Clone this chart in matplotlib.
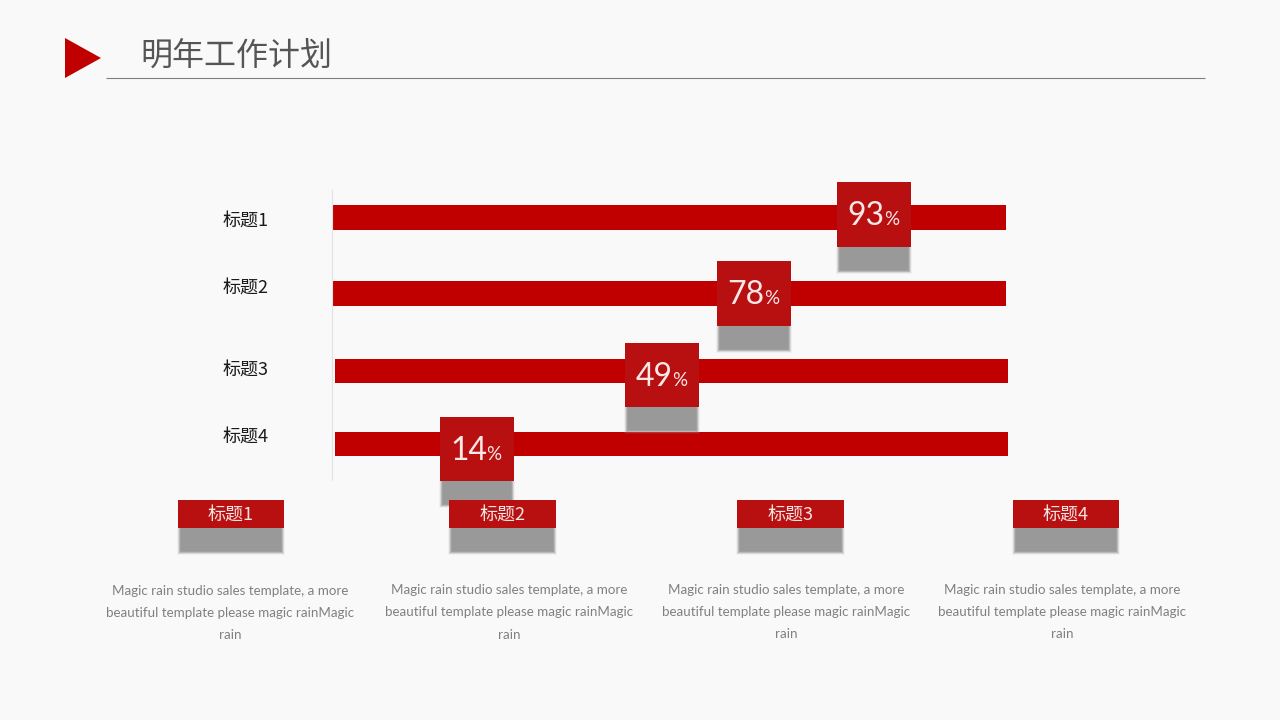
import matplotlib
matplotlib.use('Agg')
import matplotlib.pyplot as plt
from matplotlib.patches import Polygon, Rectangle

plt.rcParams['font.family'] = ['Noto Sans CJK SC', 'DejaVu Sans']

# data
row_labels = ['标题1', '标题2', '标题3', '标题4']
percents = [93, 78, 49, 14]
# where each marker sits along the bar (0-100 scale)
marker_pos = [80.45, 62.6, 48.95, 21.4]
bar_full = [100, 100, 100, 100]
card_labels = ['标题1', '标题2', '标题3', '标题4']
body_lines = ['Magic rain studio sales template, a more',
              'beautiful template please magic rainMagic',
              'rain']

# layout, in pixels of the 1280x720 picture
bar_left_px = [333, 333, 335, 335]
bar_y = [217.5, 293.5, 371, 444]
bar_h = [25, 25, 24, 24]
label_y = [219, 286, 368, 435]
marker_top = [182, 261, 343, 417]
marker_bottom = [247, 326, 407, 481]
card_left = [178, 449, 737, 1013]
card_right = [284, 556, 844, 1119]
body_x = [230.5, 509, 786.5, 1062]
body_y = [[591, 613, 635], [590, 612, 635], [590, 612, 634], [590, 612, 634]]

bg = '#f9f9f9'
red = '#c00000'
dark_red = '#b81010'
shadow = '#999999'
blur = [(2, 0.1), (1, 0.25), (0, 0.5), (-1, 0.75), (-2, 1)]

fig = plt.figure(figsize=(12.8, 7.2), dpi=100, facecolor=bg)

# chart: x is the 0-100 scale, y stays in picture pixels
ax = fig.add_axes([333 / 1280, 0, 673 / 1280, 1], zorder=1)
ax.set_xlim(0, 100)
ax.set_ylim(720, 0)
ax.patch.set_visible(False)
px = 100 / 673

for i in range(len(row_labels)):
    ax.barh(bar_y[i], bar_full[i], height=bar_h[i], left=(bar_left_px[i] - 333) * px,
            color=red, zorder=2, clip_on=False)

marker_w = 74 * px
for i in range(len(percents)):
    x0 = marker_pos[i] - marker_w / 2
    for grow, alpha in blur:
        ax.add_patch(Rectangle((x0 - (grow - 1) * px, marker_bottom[i]), marker_w + 2 * (grow - 1) * px, 25 + grow,
                               facecolor=shadow, edgecolor='none', alpha=alpha, zorder=3, clip_on=False))
    ax.add_patch(Rectangle((x0, marker_top[i]), marker_w, marker_bottom[i] - marker_top[i],
                           facecolor=dark_red, edgecolor='none', zorder=4, clip_on=False))
    base = marker_top[i] + 43
    ax.text(marker_pos[i] + 10 * px, base, str(percents[i]), color='#f9e8e8', fontsize=23,
            family=['Lato', 'DejaVu Sans'], ha='right', va='baseline', zorder=5)
    ax.text(marker_pos[i] + 9.5 * px, base, '%', color='#f9e8e8', fontsize=13.5,
            family=['Lato', 'DejaVu Sans'], ha='left', va='baseline', zorder=5)

for side in ['top', 'right', 'bottom']:
    ax.spines[side].set_visible(False)
ax.spines['left'].set_position(('data', -0.08))
ax.spines['left'].set_bounds(480, 190)
ax.spines['left'].set_color('#e2e2e2')
ax.spines['left'].set_linewidth(0.8)
ax.set_xticks([])
ax.set_yticks(label_y, row_labels)
ax.tick_params(axis='y', length=0, pad=46, labelsize=13, labelcolor='#1a1a1a')

# header, cards and captions on top, in plain pixels
top = fig.add_axes([0, 0, 1, 1], zorder=2)
top.set_xlim(0, 1280)
top.set_ylim(720, 0)
top.axis('off')
top.patch.set_visible(False)

top.add_patch(Polygon([(65, 38), (101, 58), (65, 78)], closed=True, facecolor=red, edgecolor='none'))
top.plot([106, 1205], [78, 78], color='#808080', lw=0.8, solid_capstyle='butt')
top.text(140.5, 56, '明年工作计划', fontsize=23, color='#555555', ha='left', va='center')

for i in range(len(card_labels)):
    for grow, alpha in blur:
        top.add_patch(Rectangle((card_left[i] + 1 - grow, 528), card_right[i] - card_left[i] - 2 + 2 * grow, 25 + grow,
                                facecolor=shadow, edgecolor='none', alpha=alpha, zorder=3))
    top.add_patch(Rectangle((card_left[i], 500), card_right[i] - card_left[i], 28,
                            facecolor=dark_red, edgecolor='none', zorder=4))
    top.text((card_left[i] + card_right[i]) / 2, 515, card_labels[i], color='#f6e4e4', fontsize=13,
             ha='center', va='center', zorder=5)
    for line, y in zip(body_lines, body_y[i]):
        top.text(body_x[i], y, line, color='#808080', fontsize=9.6,
                 family=['Lato', 'DejaVu Sans'], ha='center', va='center')

fig.savefig('out.png', dpi=100, facecolor=bg)
